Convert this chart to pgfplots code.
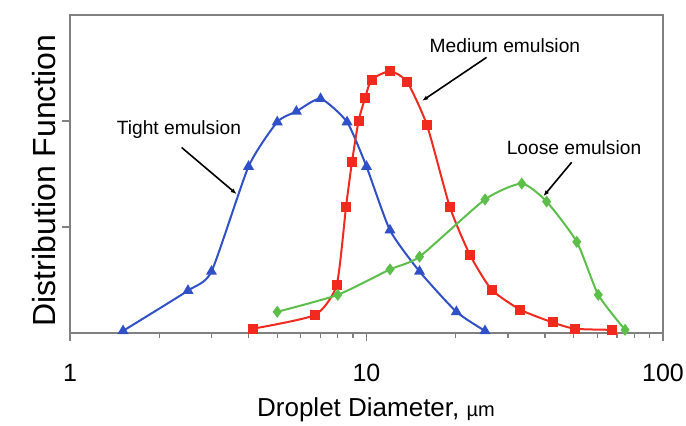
\documentclass[border=0pt]{standalone}
\usepackage{fontspec}
\setmainfont{Liberation Sans}
\usepackage{pgfplots}
\pgfplotsset{compat=1.18}
\usetikzlibrary{arrows.meta}
\definecolor{cblue}{HTML}{3050C8}
\definecolor{cred}{HTML}{F22A1E}
\definecolor{cgreen}{HTML}{5CBF4A}
\definecolor{cframe}{HTML}{808080}

\begin{document}
\begin{tikzpicture}
\begin{axis}[
  xmode=log,
  width=296.5pt, height=159pt,
  scale only axis,
  xmin=1, xmax=100,
  ymin=0, ymax=3,
  xtick={1,10,100},
  xticklabels={1,10,100},
  ytick={1,2},
  yticklabels={},
  tick align=outside, tick pos=left,
  major tick length=4pt, minor tick length=2.5pt,
  axis line style={cframe, line width=0.75pt},
  every tick/.style={cframe, line width=0.6pt},
  /pgf/number format/assume math mode=true,
  tick label style={font=\fontsize{12.5}{15}\selectfont},
  xticklabel style={yshift=-8pt},
  xlabel={Droplet Diameter, {\fontsize{10}{11}\selectfont µm}},
  ylabel={Distribution Function},
  xlabel style={font=\fontsize{13}{15}\selectfont, anchor=center,
    at={(axis description cs:0.516,0)}, yshift=-38.5pt},
  ylabel style={font=\fontsize{16}{18}\selectfont, anchor=center,
    at={(axis description cs:0,0.48)}, yshift=13pt},
  clip=false,
  every axis plot/.append style={line width=1pt, smooth, tension=0.35},
]

% tight emulsion
\addplot[cblue, mark=triangle*, mark size=2.2pt, mark options={fill=cblue}] coordinates {
  (1.51,0.02) (2.5,0.40) (3.0,0.58) (4.0,1.57) (5.0,1.99) (5.8,2.09)
  (7.0,2.21) (8.6,1.99) (10.0,1.57) (12.0,0.97) (15.1,0.58) (20.1,0.20) (25.1,0.02)
};
% medium emulsion
\addplot[cred, mark=square*, mark size=2pt, mark options={fill=cred}] coordinates {
  (4.13,0.04) (6.7,0.17) (7.93,0.45) (8.53,1.19) (8.93,1.61) (9.4,2.00)
  (9.9,2.22) (10.4,2.39) (12.0,2.47) (13.7,2.37) (16.0,1.96) (19.1,1.19)
  (22.3,0.74) (26.4,0.41) (33.0,0.22) (42.4,0.10) (50.5,0.04) (67.1,0.03)
};
% loose emulsion
\addplot[cgreen, mark=diamond*, mark size=2.2pt, mark options={fill=cgreen}] coordinates {
  (5.0,0.20) (8.0,0.36) (12.0,0.60) (15.1,0.72) (25.1,1.26) (33.4,1.41)
  (40.5,1.24) (51.2,0.86) (60.5,0.36) (74.5,0.03)
};

\node[font=\fontsize{9.6}{11}\selectfont] at (axis cs:2.33,1.92) {Tight emulsion};
\draw[-{Latex[length=3pt]}, line width=0.8pt] (axis cs:2.38,1.75) -- (axis cs:3.65,1.31);
\node[font=\fontsize{9.6}{11}\selectfont] at (axis cs:29.3,2.71) {Medium emulsion};
\draw[-{Latex[length=3pt]}, line width=0.8pt] (axis cs:25.4,2.60) -- (axis cs:15.4,2.19);
\node[font=\fontsize{9.6}{11}\selectfont] at (axis cs:50.1,1.75) {Loose emulsion};
\draw[-{Latex[length=3pt]}, line width=0.8pt] (axis cs:49.2,1.61) -- (axis cs:39.5,1.29);
\end{axis}
\pgfresetboundingbox
\useasboundingbox ([shift={(-35pt,-46pt)}]current axis.south west)
  rectangle ([shift={(11.5pt,7.5pt)}]current axis.north east);
\end{tikzpicture}
\end{document}
